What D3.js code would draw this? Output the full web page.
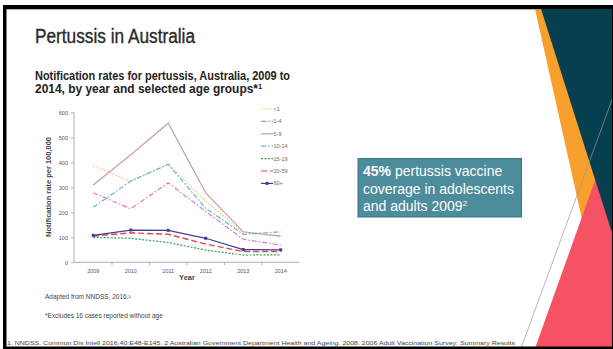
<!DOCTYPE html>
<html>
<head>
<meta charset="utf-8">
<script src="https://cdn.jsdelivr.net/npm/d3@7"></script>
<style>
  body { margin: 0; background: #fff; }
  svg { display: block; font-family: "Liberation Sans", Arial, sans-serif; }
</style>
</head>
<body>
<svg id="slide" width="613" height="349"></svg>
<script>
// chart data
const years = ["2009", "2010", "2011", "2012", "2013", "2014"];
const ageGroups = ["<1", "1-4", "5-9", "10-14", "15-19", "20-59", "60+"];
const rateUnder1 = [387, 323, 392, 245, 118, 103];
const rate1to4 = [278, 214, 318, 203, 92, 69];
const rate5to9 = [309, 430, 556, 278, 122, 105];
const rate10to14 = [220, 325, 392, 216, 112, 122];
const rate15to19 = [100, 96, 79, 49, 29, 30];
const rate20to59 = [105, 118, 112, 73, 43, 43];
const rate60plus = [108, 129, 128, 96, 51, 50];
const yTicks = [0, 100, 200, 300, 400, 500, 600];

const seriesValues = [rateUnder1, rate1to4, rate5to9, rate10to14, rate15to19, rate20to59, rate60plus];
const colors = ["#f6c75a", "#e07cb6", "#c99aad", "#5ab6e0", "#3a9e58", "#e8434f", "#3d3e9a"];
const dashes = ["1.5,1.5", "5,2,1.5,2", null, "5,2,1.5,2", "2,1.5", "6,3", null];

const svg = d3.select("#slide");

// ---- slide decoration ----
const deco = svg.append("g");
deco.append("polygon").attr("points", "535,9 613,9 613,358").attr("fill", "#f7a02b");
deco.append("polygon").attr("points", "535.5,347 613,130 613,347").attr("fill", "#f65263");
deco.append("polygon").attr("points", "541,9 613,9 613,236").attr("fill", "#063f4f");
deco.append("line").attr("x1", 521.5).attr("y1", 347).attr("x2", 613).attr("y2", 97)
  .attr("stroke", "#9a9a9a").attr("stroke-width", 0.7);

// frame
deco.append("rect").attr("x", 3).attr("y", 5).attr("width", 609).attr("height", 4).attr("fill", "#000");
deco.append("line").attr("x1", 6).attr("x2", 540).attr("y1", 9.6).attr("y2", 9.6).attr("stroke", "#999").attr("stroke-width", 0.8);
deco.append("rect").attr("x", 3).attr("y", 5).attr("width", 3.5).attr("height", 344).attr("fill", "#000");
deco.append("rect").attr("x", 3).attr("y", 346.5).attr("width", 610).attr("height", 2.5).attr("fill", "#000");
deco.append("rect").attr("x", 612).attr("y", 5).attr("width", 1).attr("height", 344).attr("fill", "#000");

// ---- titles ----
svg.append("text").attr("x", 35).attr("y", 43)
  .attr("font-size", 19.5).attr("fill", "#2a2a2a")
  .attr("stroke", "#2a2a2a").attr("stroke-width", 0.35)
  .attr("textLength", 160).attr("lengthAdjust", "spacingAndGlyphs")
  .text("Pertussis in Australia");
svg.append("text").attr("x", 35).attr("y", 80)
  .attr("font-size", 12).attr("font-weight", "bold").attr("fill", "#222")
  .attr("textLength", 255).attr("lengthAdjust", "spacingAndGlyphs")
  .text("Notification rates for pertussis, Australia, 2009 to");
const sub2 = svg.append("text").attr("x", 35).attr("y", 93)
  .attr("font-size", 12).attr("font-weight", "bold").attr("fill", "#222");
sub2.append("tspan").attr("textLength", 223).attr("lengthAdjust", "spacingAndGlyphs")
  .text("2014, by year and selected age groups*");
sub2.append("tspan").attr("font-size", 7.5).attr("dy", -4).text("1");

// ---- chart ----
const x = d3.scaleBand().domain(years).range([74.5, 299.5]);
const y = d3.scaleLinear().domain([0, 600]).range([262.3, 112.3]);

const plot = svg.append("g");

const yAxis = plot.append("g").attr("transform", "translate(74,0)")
  .call(d3.axisLeft(y).tickValues(yTicks).tickSize(3).tickPadding(3));
const xAxis = plot.append("g").attr("transform", "translate(0,262.3)")
  .call(d3.axisBottom(x).tickSize(0).tickPadding(7));
// x-axis ticks sit between years
xAxis.selectAll(".sep").data(years.slice(1)).enter().append("line")
  .attr("x1", d => x(d)).attr("x2", d => x(d)).attr("y1", 0).attr("y2", 3)
  .attr("stroke", "#999").attr("stroke-width", 0.7);
[yAxis, xAxis].forEach(a => {
  a.select(".domain").attr("stroke", "#999").attr("stroke-width", 0.8);
  a.selectAll(".tick line").attr("stroke", "#999").attr("stroke-width", 0.7);
  a.selectAll("text").attr("font-size", 5.5).attr("fill", "#555").attr("font-family", "Liberation Sans, Arial, sans-serif");
});
yAxis.select(".domain").attr("d", "M0,262.3V112.3");
xAxis.select(".domain").attr("d", "M74,0H299.5");

plot.append("text").attr("transform", "translate(51,187) rotate(-90)")
  .attr("text-anchor", "middle").attr("font-size", 7.5).attr("font-weight", "bold").attr("fill", "#444")
  .text("Notification rate per 100,000");
plot.append("text").attr("x", 187).attr("y", 280)
  .attr("text-anchor", "middle").attr("font-size", 7.5).attr("font-weight", "bold").attr("fill", "#444")
  .text("Year");

const line = d3.line()
  .x((d, i) => x(years[i]) + x.bandwidth() / 2)
  .y(d => y(d));

plot.selectAll(".series").data(seriesValues).enter().append("path")
  .attr("class", "series")
  .attr("d", d => line(d))
  .attr("fill", "none")
  .attr("stroke", (d, i) => colors[i])
  .attr("stroke-width", (d, i) => i === 5 ? 1.4 : 1.2)
  .attr("stroke-dasharray", (d, i) => dashes[i]);

// markers on 60+
plot.selectAll(".mark").data(rate60plus).enter().append("rect")
  .attr("x", (d, i) => x(years[i]) + x.bandwidth() / 2 - 1.5)
  .attr("y", d => y(d) - 1.5)
  .attr("width", 3).attr("height", 3)
  .attr("fill", colors[6]);

// legend
const legend = plot.selectAll(".leg").data(ageGroups).enter().append("g")
  .attr("transform", (d, i) => `translate(261,${109 + i * 12.4})`);
legend.append("line").attr("x1", 0).attr("x2", 12).attr("y1", 0).attr("y2", 0)
  .attr("stroke", (d, i) => colors[i]).attr("stroke-width", 1.2)
  .attr("stroke-dasharray", (d, i) => dashes[i]);
legend.filter((d, i) => i === 6).append("rect")
  .attr("x", 4.5).attr("y", -1.5).attr("width", 3).attr("height", 3).attr("fill", colors[6]);
legend.append("text").attr("x", 12.5).attr("y", 2)
  .attr("font-size", 5.5).attr("fill", "#666").text(d => d);

// ---- call-out box ----
svg.append("rect").attr("x", 358).attr("y", 158.5).attr("width", 163.5).attr("height", 58.5)
  .attr("fill", "#4d8c9b").attr("stroke", "#3c7483").attr("stroke-width", 1);
const box = svg.append("text").attr("fill", "#fff").attr("font-size", 14);
const l1 = box.append("tspan").attr("x", 363).attr("y", 176);
l1.append("tspan").attr("font-weight", "bold").text("45%");
l1.append("tspan").text(" pertussis vaccine");
box.append("tspan").attr("x", 363).attr("y", 193.5).text("coverage in adolescents");
const l3 = box.append("tspan").attr("x", 363).attr("y", 211);
l3.append("tspan").text("and adults 2009");
l3.append("tspan").attr("font-size", 8).attr("dy", -5).text("2");

// ---- notes ----
svg.append("text").attr("x", 45).attr("y", 298.5).attr("font-size", 6.5).attr("fill", "#444")
  .text("Adapted from NNDSS, 2016.¹");
svg.append("text").attr("x", 45).attr("y", 318).attr("font-size", 6.5).attr("fill", "#444")
  .text("*Excludes 16 cases reported without age");
svg.append("text").attr("x", 7).attr("y", 344.5).attr("font-size", 5.8).attr("fill", "#444")
  .attr("textLength", 508).attr("lengthAdjust", "spacingAndGlyphs")
  .text("1. NNDSS. Commun Dis Intell 2016;40:E48-E145. 2 Australian Government Department Health and Ageing. 2008. 2006 Adult Vaccination Survey: Summary Results");
</script>
</body>
</html>
